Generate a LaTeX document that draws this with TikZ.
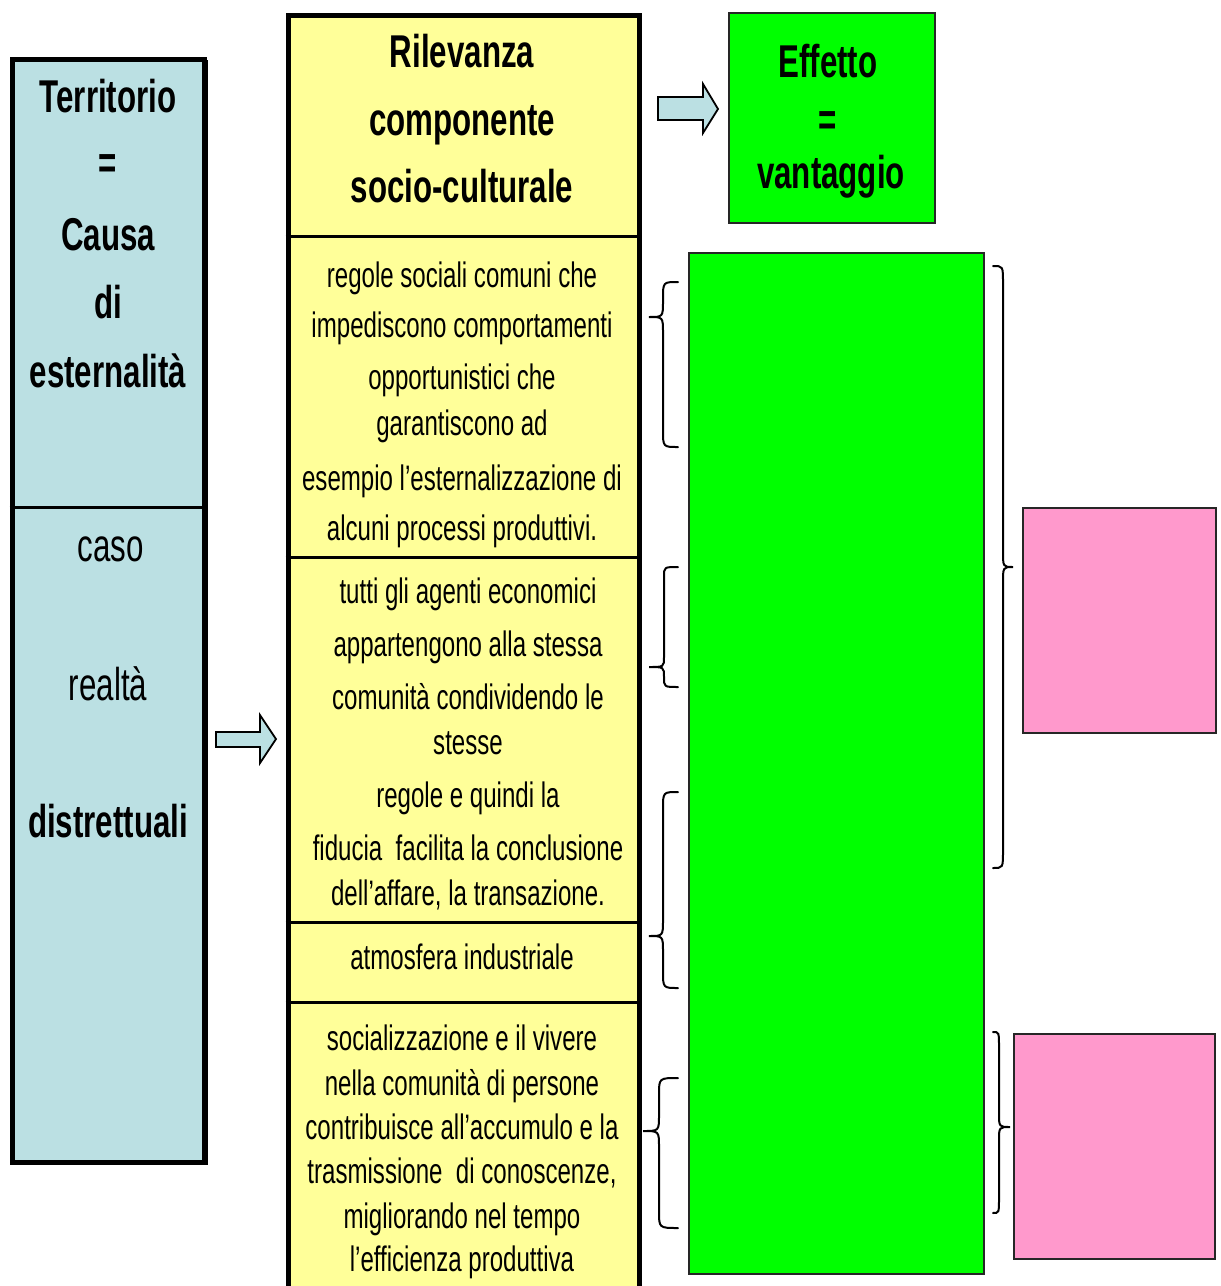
\documentclass[tikz,border=0pt]{standalone}
\usepackage{fontspec}
\newfontfamily\nf[FakeStretch=0.68]{Liberation Sans}
\definecolor{cblue}{HTML}{BBE0E3}
\definecolor{cyel}{HTML}{FFFF99}
\definecolor{cgreen}{HTML}{00FF00}
\definecolor{cpink}{HTML}{FF99CC}
\newcommand\mybrace[8]{% xend, xspine, xtip, ytop, ytip, ybot, rhook, rtip
  \draw[bracestyle] ({#1},{#4}) .. controls ({#2},{#4}) .. ({#2},{#4+#7}) -- ({#2},{#5-#8})
    .. controls ({#2},{#5}) .. ({#3},{#5}) .. controls ({#2},{#5}) .. ({#2},{#5+#8})
    -- ({#2},{#6-#7}) .. controls ({#2},{#6}) .. ({#1},{#6});}
\begin{document}
\begin{tikzpicture}[x=1pt,y=-1pt,
  bigb/.style={font=\nf\bfseries\fontsize{46}{50}\selectfont, inner sep=0pt, anchor=base},
  bigr/.style={font=\nf\fontsize{46}{50}\selectfont, inner sep=0pt, anchor=base},
  txt/.style={font=\nf\fontsize{35.4}{40}\selectfont, inner sep=0pt, anchor=base},
  thickbox/.style={draw=black, line width=5pt, anchor=north west, inner sep=0pt},
  thinbox/.style={draw=black!85, line width=1.5pt, anchor=north west, inner sep=0pt},
  divider/.style={line width=3pt},
  blockarrow/.style={draw=black, line width=1.8pt, fill=cblue, line join=miter},
  bracestyle/.style={line width=2pt, line cap=round}
]
\clip (0,0) rectangle (1221,1286);
\fill[white] (0,0) rectangle (1221,1286);

% ---- left box (Territorio) ----
\fill[black] (13,60) rectangle (208,1165);
\node[thickbox, fill=cblue, minimum width=192pt, minimum height=1103.5pt] (causa) at (9.5,56.5) {};
\draw[divider] (9.5,507) -- (201.5,507);
\node[bigb] (t1) at (108,112) {Territorio};
\node[bigb] (t2) at (108,178) {=};
\node[bigb] (t3) at (108,250) {Causa};
\node[bigb] (t4) at (108,318) {di};
\node[bigb] (t5) at (108,387) {esternalità};
\node[bigr] (c1) at (111,561) {caso};
\node[bigr] (c2) at (108,700) {realtà};
\node[bigb] (c3) at (108,837) {distrettuali};

% ---- left arrow ----
\draw[blockarrow] (216,732) coordinate (la1) -- (260,732) -- (260,715) -- (276,739) coordinate (latip)
  -- (260,763) -- (260,747) -- (216,747) -- cycle;

% ---- middle box ----
\fill[black] (289,16) rectangle (642,1300);
\node[thickbox, fill=cyel, minimum width=351.5pt, minimum height=1300pt] (rilev) at (285.5,12.5) {};
\draw[divider] (285.5,236) -- (637,236);
\draw[divider] (285.5,557) -- (637,557);
\draw[divider] (285.5,922) -- (637,922);
\draw[divider] (285.5,1002) -- (637,1002);
\node[bigb] (h1) at (462,67) {Rilevanza};
\node[bigb] (h2) at (462,135) {componente};
\node[bigb] (h3) at (462,202) {socio-culturale};

\node[txt] (a1) at (462,287) {regole sociali comuni che};
\node[txt] (a2) at (462,337) {impediscono comportamenti};
\node[txt] (a3) at (462,389) {opportunistici che};
\node[txt] (a4) at (462,435) {garantiscono ad};
\node[txt] (a5) at (462,490) {esempio l’esternalizzazione di};
\node[txt] (a6) at (462,540) {alcuni processi produttivi.};

\node[txt] (b1) at (468,603) {tutti gli agenti economici};
\node[txt] (b2) at (468,656) {appartengono alla stessa};
\node[txt] (b3) at (468,709) {comunità condividendo le};
\node[txt] (b4) at (468,754) {stesse};
\node[txt] (b5) at (468,807) {regole e quindi la};
\node[txt] (b6) at (468,860) {fiducia\ \ facilita la conclusione};
\node[txt] (b7) at (468,905) {dell’affare, la transazione.};

\node[txt] (d1) at (462,969) {atmosfera industriale};

\node[txt] (e1) at (462,1050) {socializzazione e il vivere};
\node[txt] (e2) at (462,1095) {nella comunità di persone};
\node[txt] (e3) at (462,1139) {contribuisce all’accumulo e la};
\node[txt] (e4) at (462,1183) {trasmissione\ \ di conoscenze,};
\node[txt] (e5) at (462,1228) {migliorando nel tempo};
\node[txt] (e6) at (462,1271) {l’efficienza produttiva};

% ---- top arrow ----
\draw[blockarrow] (658,97) coordinate (ta1) -- (703,97) -- (703,84) -- (718,109) coordinate (tatip)
  -- (703,133) -- (703,120) -- (658,120) -- cycle;

% ---- Effetto box ----
\node[thinbox, fill=cgreen, minimum width=206pt, minimum height=210pt] (eff) at (728,12) {};
\node[bigb] (f1) at (828,77) {Effetto};
\node[bigb] (f2) at (828,135) {=};
\node[bigb] (f3) at (831,188) {vantaggio};

% ---- big green box ----
\node[thinbox, fill=cgreen, minimum width=295pt, minimum height=1021pt] (green) at (688,252) {};

% ---- pink boxes ----
\node[thinbox, fill=cpink, minimum width=193pt, minimum height=225pt] (pink1) at (1022,507) {};
\node[thinbox, fill=cpink, minimum width=201pt, minimum height=225pt] (pink2) at (1013,1033) {};

% ---- braces ----
\mybrace{678}{663}{649}{282}{317}{447}{17}{16}
\mybrace{678}{664}{649}{567}{667}{687}{10}{10}
\mybrace{678}{663}{649}{792}{936}{988}{17}{16}
\mybrace{678}{659}{643}{1078}{1131}{1228}{17}{16}
\mybrace{993}{1003}{1013}{266}{567}{868}{17}{16}
\mybrace{993}{999}{1010}{1032}{1127}{1213}{15}{14}
\end{tikzpicture}
\end{document}
